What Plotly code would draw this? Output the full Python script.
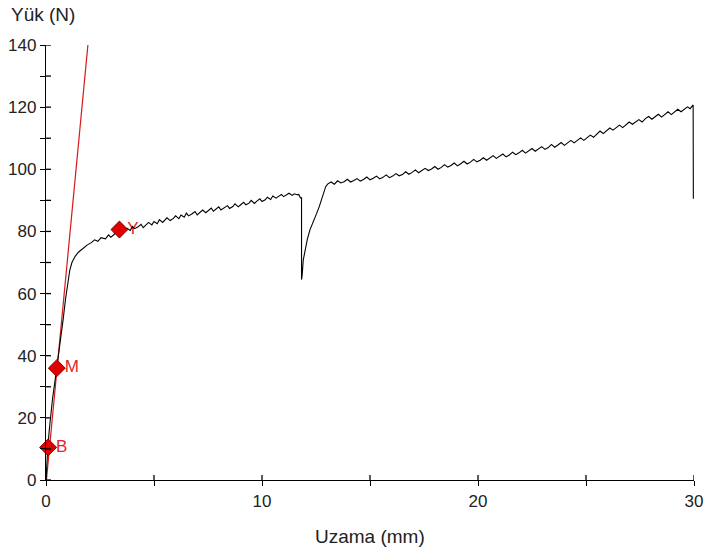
import plotly.graph_objects as go

# ---- data ----
curve_x = [0, 0.03, 0.08, 0.15, 0.22, 0.30, 0.40, 0.50, 0.60, 0.70, 0.80, 0.90, 1.00, 1.10, 1.20, 1.35, 1.50, 1.70, 1.90, 2.10,
           2.25, 2.40, 2.55, 2.75, 2.90, 3.00, 3.15, 3.25, 3.40, 3.50, 3.65, 3.75, 3.90, 4.00, 4.10, 4.25, 4.40, 4.50, 4.60, 4.75,
           4.90, 5.00, 5.15, 5.25, 5.40, 5.50, 5.60, 5.75, 5.90, 6.00, 6.15, 6.25, 6.40, 6.50, 6.60, 6.75, 6.90, 7.00, 7.15, 7.25,
           7.40, 7.50, 7.65, 7.75, 7.90, 8.00, 8.10, 8.25, 8.40, 8.50, 8.65, 8.75, 8.90, 9.00, 9.15, 9.25, 9.40, 9.50, 9.65, 9.75,
           9.90, 10.00, 10.15, 10.25, 10.40, 10.50, 10.65, 10.75, 10.90, 11.00, 11.15, 11.25, 11.40, 11.50, 11.62, 11.70, 11.78,
           11.83, 11.83, 11.86, 11.91, 12.00, 12.10, 12.22, 12.35, 12.53, 12.65, 12.76, 12.85, 12.95, 13.05,
           13.20, 13.35, 13.50, 13.65, 13.80, 13.95, 14.10, 14.25, 14.40, 14.55, 14.70, 14.85, 15.00, 15.15, 15.30, 15.45,
           15.60, 15.75, 15.90, 16.05, 16.20, 16.35, 16.50, 16.65, 16.80, 16.95, 17.10, 17.25, 17.40, 17.55, 17.70, 17.85,
           18.00, 18.15, 18.30, 18.45, 18.60, 18.75, 18.90, 19.05, 19.20, 19.35, 19.50, 19.65, 19.80, 19.95, 20.10, 20.25,
           20.40, 20.55, 20.70, 20.85, 21.00, 21.15, 21.30, 21.45, 21.60, 21.75, 21.90, 22.05, 22.20, 22.35, 22.50, 22.65,
           22.80, 22.95, 23.10, 23.25, 23.40, 23.55, 23.70, 23.85, 24.00, 24.15, 24.30, 24.45, 24.60, 24.75, 24.90, 25.05,
           25.20, 25.35, 25.50, 25.65, 25.80, 25.95, 26.10, 26.25, 26.40, 26.55, 26.70, 26.85, 27.00, 27.15, 27.30, 27.45,
           27.60, 27.75, 27.90, 28.05, 28.20, 28.35, 28.50, 28.65, 28.80, 28.95, 29.10, 29.25, 29.40, 29.55, 29.70, 29.82,
           29.90, 29.96, 29.97]
curve_y = [0, 5, 10, 16, 21, 26, 31, 36, 41.5, 46.5, 52, 58, 63, 67.5, 70, 72, 73.3, 74.5, 75.6, 76.4,
           77.3, 76.8, 78.0, 77.6, 78.9, 78.1, 79.0, 80.2, 79.4, 80.8, 80.1, 81.0, 80.3, 81.6, 80.9, 81.4, 82.3, 81.2, 82.0, 82.9,
           82.1, 83.2, 82.5, 83.8, 82.9, 83.6, 84.4, 83.5, 84.2, 85.0, 84.1, 85.3, 84.6, 85.9, 85.0, 85.6, 86.4, 85.3, 86.1, 86.9,
           86.0, 86.6, 87.5, 86.5, 87.2, 87.9, 86.9, 87.6, 88.3, 87.4, 88.0, 88.9, 87.9, 88.5, 89.4, 88.6, 89.1, 90.0, 89.0, 89.7,
           90.5, 89.6, 90.2, 91.0, 90.3, 91.4, 90.7, 91.2, 91.9, 91.2, 91.7, 92.3, 91.6, 92.1, 91.8, 91.9, 90.8,
           90.8, 64.5, 66.0, 70.8, 74.0, 77.5, 80.5, 83.0, 85.8, 88.0, 90.1, 92.5, 94.4, 95.3,
           95.9, 95.2, 96.3, 95.6, 96.0, 96.8, 95.9, 96.4, 97.0, 96.2, 96.7, 97.5, 96.6, 97.1, 97.8, 96.9,
           97.4, 98.2, 97.3, 97.8, 98.6, 97.9, 98.3, 99.2, 98.4, 99.0, 99.8, 98.9, 99.5, 100.3, 99.6, 100.1,
           100.9, 100.0, 100.6, 101.5, 100.7, 101.2, 102.0, 101.1, 101.8, 102.6, 101.7, 102.3, 103.2, 102.4, 102.9, 103.7,
           102.9, 103.6, 104.4, 103.5, 104.1, 104.9, 104.0, 104.6, 105.5, 104.7, 105.3, 106.1, 105.2, 105.9, 106.7, 105.8,
           106.5, 107.3, 106.4, 107.0, 108.0, 107.1, 107.8, 108.6, 107.7, 108.4, 109.3, 108.5, 109.2, 110.1, 109.3, 110.2,
           111.0, 110.3, 111.4, 112.3, 111.5, 112.5, 113.3, 112.6, 113.5, 114.2, 113.4, 114.4, 115.2, 114.5, 115.3, 116.0,
           115.2, 116.3, 117.0, 116.1, 116.9, 117.7, 116.8, 117.6, 118.5, 117.6, 118.4, 119.3, 118.5, 119.4, 120.1, 119.5,
           120.3, 120.7, 90.5]

fit_x = [0.02, 1.94]
fit_y = [0, 140]

point_labels = ["B", "M", "Y"]
point_x = [0.10, 0.50, 3.40]
point_y = [10.5, 36.0, 80.6]

x_tick_vals = [0, 10, 20, 30]
x_minor_vals = [5, 15, 25]
y_tick_vals = [0, 20, 40, 60, 80, 100, 120, 140]
y_minor_vals = [10, 30, 50, 70, 90, 110, 130]

RED = "#e00000"
FONT = "Liberation Sans, Arial, sans-serif"
PLOT_W = 708 - 46 - 14
PLOT_H = 558 - 45 - 78
TICK = 5

fig = go.Figure()

# point labels (offset by an invisible marker of the same size)
fig.add_trace(go.Scatter(x=point_x, y=point_y, mode="markers+text", text=point_labels,
                         textposition="middle right",
                         marker=dict(symbol="diamond", size=11, opacity=0),
                         textfont=dict(color="#e02828", size=17, family=FONT),
                         cliponaxis=False, showlegend=False, hoverinfo="skip"))

fig.add_trace(go.Scatter(x=fit_x, y=fit_y, mode="lines",
                         line=dict(color="#d41a1a", width=1.2),
                         cliponaxis=False, showlegend=False))

fig.add_trace(go.Scatter(x=curve_x, y=curve_y, mode="lines",
                         line=dict(color="black", width=1.1),
                         cliponaxis=False, showlegend=False))

fig.add_trace(go.Scatter(x=point_x, y=point_y, mode="markers",
                         marker=dict(symbol="diamond", size=13, color=RED,
                                     line=dict(color="#8a0000", width=1)),
                         cliponaxis=False, showlegend=False))

axis_common = dict(showgrid=False, zeroline=False, showline=True, linecolor="black", linewidth=1.3,
                   tickcolor="black", tickwidth=1.3, ticklen=TICK, automargin=False,
                   tickfont=dict(family=FONT, size=17, color="#222222"))

# inner half of the crossing tick marks, placed at the axis tick values
tick_shapes = []
for v in x_tick_vals + x_minor_vals:
    tick_shapes.append(dict(type="line", xref="x", yref="y domain", x0=v, x1=v, y0=0, y1=TICK / PLOT_H,
                            line=dict(color="black", width=1.3), layer="above"))
for v in y_tick_vals + y_minor_vals:
    tick_shapes.append(dict(type="line", xref="x domain", yref="y", x0=0, x1=TICK / PLOT_W, y0=v, y1=v,
                            line=dict(color="black", width=1.3), layer="above"))

fig.update_layout(
    width=708, height=558,
    margin=dict(l=46, r=14, t=45, b=78),
    paper_bgcolor="white", plot_bgcolor="white",
    xaxis=dict(range=[0, 30], tickvals=x_tick_vals, ticks="outside",
               minor=dict(tickvals=x_minor_vals, ticks="outside", ticklen=TICK, tickcolor="black", tickwidth=1.3),
               **axis_common),
    yaxis=dict(range=[0, 140], tickvals=y_tick_vals, ticks="outside",
               minor=dict(tickvals=y_minor_vals, ticks="outside", ticklen=TICK, tickcolor="black", tickwidth=1.3),
               **axis_common),
    shapes=tick_shapes,
    annotations=[
        dict(text="Yük (N)", xref="paper", yref="paper", x=-0.057, y=1.071,
             xanchor="left", yanchor="middle", showarrow=False,
             font=dict(family=FONT, size=19, color="#222222")),
        dict(text="Uzama (mm)", xref="paper", yref="paper", x=0.5, y=-0.131,
             xanchor="center", yanchor="middle", showarrow=False,
             font=dict(family=FONT, size=19, color="#222222")),
    ],
)

fig.write_html("out.html")
